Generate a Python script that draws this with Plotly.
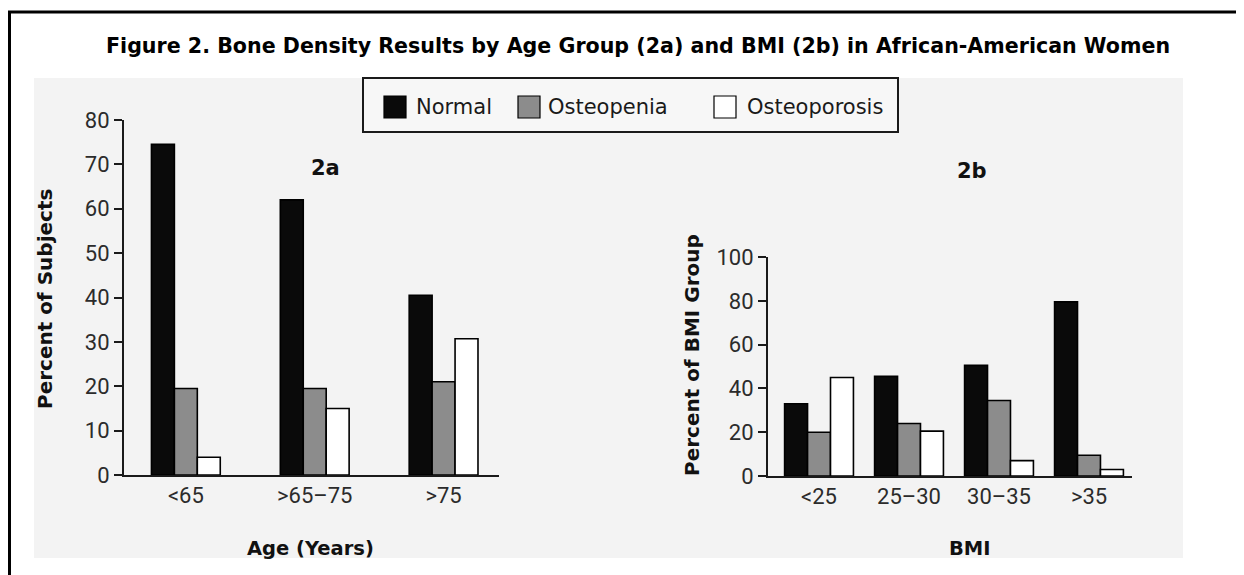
import plotly.graph_objects as go

# ---------------- data ----------------
age_groups = ["<65", ">65–75", ">75"]
age_normal = [74.5, 62, 40.5]
age_osteopenia = [19.5, 19.5, 21]
age_osteoporosis = [4, 15, 30.7]

bmi_groups = ["<25", "25–30", "30–35", ">35"]
bmi_normal = [33, 45.5, 50.5, 79.5]
bmi_osteopenia = [20, 24, 34.5, 9.5]
bmi_osteoporosis = [45, 20.5, 7, 3]

series_names = ["Normal", "Osteopenia", "Osteoporosis"]
series_colors = ["#0a0a0a", "#8c8c8c", "#ffffff"]

age_ticks = [0, 10, 20, 30, 40, 50, 60, 70, 80]
bmi_ticks = [0, 20, 40, 60, 80, 100]

# ---------------- layout constants ----------------
W, H = 1244, 575
OFF = 8  # page body margin compensation
FONT = "DejaVu Sans"
TICKFONT = "Roboto"

def px(x):
    return (x - OFF) / W

def py(y):
    return 1 - (y - OFF) / H

fig = go.Figure()

age_series = [age_normal, age_osteopenia, age_osteoporosis]
bmi_series = [bmi_normal, bmi_osteopenia, bmi_osteoporosis]

w_a = 0.178
w_b = 0.255
for i, (name, col) in enumerate(zip(series_names, series_colors)):
    fig.add_trace(go.Bar(
        x=age_groups, y=age_series[i], name=name, xaxis="x", yaxis="y",
        marker=dict(color=col, line=dict(color="#000000", width=1.6)),
        width=w_a, offset=(i - 1.5) * w_a, showlegend=False,
    ))
    fig.add_trace(go.Bar(
        x=bmi_groups, y=bmi_series[i], name=name, xaxis="x2", yaxis="y2",
        marker=dict(color=col, line=dict(color="#000000", width=1.6)),
        width=w_b, offset=(i - 1.5) * w_b, showlegend=False,
    ))

tickfont = dict(family=TICKFONT, size=22, color="#2b2b2b")
common_x = dict(type="category", showgrid=False, zeroline=False, showline=True,
                linecolor="#1a1a1a", linewidth=2, ticks="", tickfont=tickfont,
                fixedrange=True, automargin=False)
common_y = dict(showgrid=False, zeroline=False, showline=True, linecolor="#1a1a1a",
                linewidth=2, ticks="outside", ticklen=8, tickwidth=2,
                tickcolor="#1a1a1a", tickfont=tickfont, fixedrange=True,
                automargin=False)

fig.update_layout(
    template="none",
    width=W, height=H,
    margin=dict(l=0, r=0, t=0, b=0, pad=0, autoexpand=False),
    paper_bgcolor="#ffffff",
    plot_bgcolor="rgba(0,0,0,0)",
    barmode="overlay",
    showlegend=False,
    xaxis=dict(common_x, domain=[px(124), px(499)], anchor="y",
               range=[-0.48, 2.43]),
    yaxis=dict(common_y, domain=[py(475), py(120)], anchor="x",
               range=[0, 80], tickvals=age_ticks),
    xaxis2=dict(common_x, domain=[px(768), px(1132)], anchor="y2",
                range=[-0.567, 3.478]),
    yaxis2=dict(common_y, domain=[py(476), py(257)], anchor="x2",
                range=[0, 100], tickvals=bmi_ticks),
)

shapes = []
# gray background panel
shapes.append(dict(type="rect", xref="paper", yref="paper", layer="below",
                   x0=px(34), x1=px(1183), y0=py(558), y1=py(78),
                   fillcolor="#f3f3f3", line=dict(width=0)))
# outer frame lines
shapes.append(dict(type="line", xref="paper", yref="paper",
                   x0=px(8), x1=1, y0=py(12), y1=py(12),
                   line=dict(color="#000000", width=3)))
shapes.append(dict(type="line", xref="paper", yref="paper",
                   x0=px(9.5), x1=px(9.5), y0=py(12), y1=0,
                   line=dict(color="#000000", width=3)))
# legend box
shapes.append(dict(type="rect", xref="paper", yref="paper",
                   x0=px(363), x1=px(898), y0=py(132), y1=py(78),
                   fillcolor="#f7f7f7", line=dict(color="#1a1a1a", width=2)))

annotations = []
legend_items = [(384, 414), (518, 546), (714, 745)]
for (sx, tx), name, col in zip(legend_items, series_names, series_colors):
    shapes.append(dict(type="rect", xref="paper", yref="paper",
                       x0=px(sx), x1=px(sx + 22), y0=py(118), y1=py(96),
                       fillcolor=col, line=dict(color="#000000", width=1.2)))
    annotations.append(dict(text=name, xref="paper", yref="paper",
                            x=px(tx), y=py(107), xanchor="left", yanchor="middle",
                            showarrow=False,
                            font=dict(family=FONT, size=21, color="#1a1a1a")))

# title
annotations.append(dict(text="<b>Figure 2. Bone Density Results by Age Group (2a) and BMI (2b) in African-American Women</b>",
                        xref="paper", yref="paper", x=px(638), y=py(46),
                        xanchor="center", yanchor="middle", showarrow=False,
                        font=dict(family=FONT, size=20.6, color="#000000")))
# panel labels
annotations.append(dict(text="<b>2a</b>", xref="paper", yref="paper", x=px(325), y=py(168),
                        xanchor="center", yanchor="middle", showarrow=False,
                        font=dict(family=FONT, size=21, color="#111111")))
annotations.append(dict(text="<b>2b</b>", xref="paper", yref="paper", x=px(972), y=py(171),
                        xanchor="center", yanchor="middle", showarrow=False,
                        font=dict(family=FONT, size=21, color="#111111")))
# axis titles
annotations.append(dict(text="<b>Percent of Subjects</b>", xref="paper", yref="paper",
                        x=px(45), y=py(299), textangle=-90, xanchor="center", yanchor="middle",
                        showarrow=False, font=dict(family=FONT, size=20, color="#111111")))
annotations.append(dict(text="<b>Percent of BMI Group</b>", xref="paper", yref="paper",
                        x=px(692), y=py(355), textangle=-90, xanchor="center", yanchor="middle",
                        showarrow=False, font=dict(family=FONT, size=20, color="#111111")))
annotations.append(dict(text="<b>Age (Years)</b>", xref="paper", yref="paper",
                        x=px(310), y=py(548), xanchor="center", yanchor="middle",
                        showarrow=False, font=dict(family=FONT, size=19.5, color="#111111")))
annotations.append(dict(text="<b>BMI</b>", xref="paper", yref="paper",
                        x=px(970), y=py(548), xanchor="center", yanchor="middle",
                        showarrow=False, font=dict(family=FONT, size=19.5, color="#111111")))

fig.update_layout(shapes=shapes, annotations=annotations)

fig.write_html("out.html")
